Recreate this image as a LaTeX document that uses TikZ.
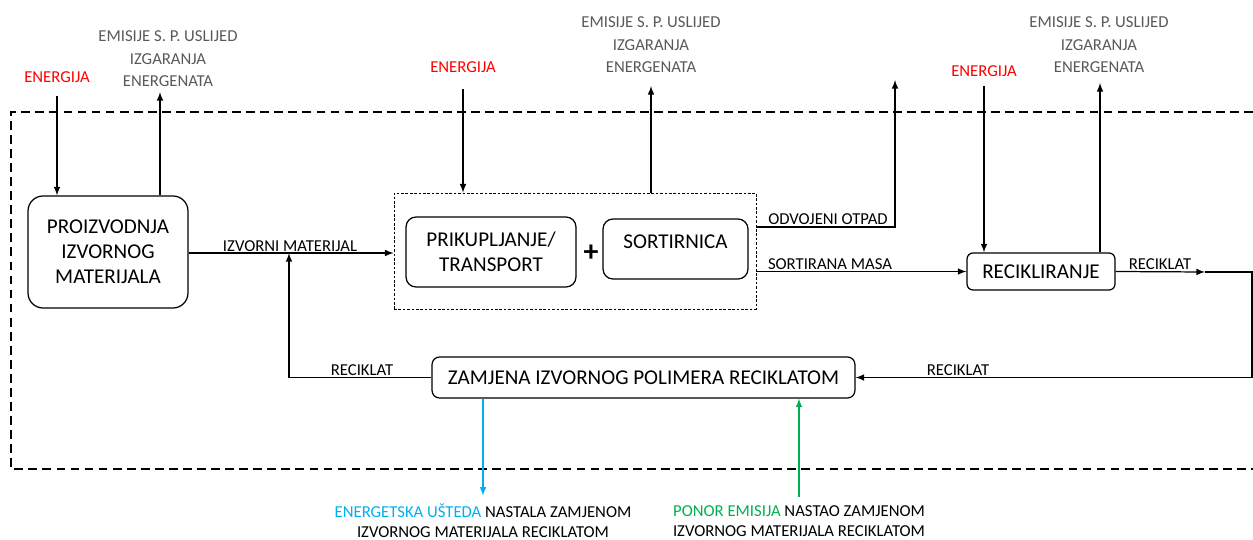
\documentclass[tikz,border=0pt]{standalone}
\usepackage{fontspec}
\setmainfont{Carlito}
\usetikzlibrary{positioning}
\definecolor{enred}{RGB}{255,0,0}
\definecolor{emgrey}{RGB}{89,89,89}
\definecolor{usteda}{RGB}{0,176,240}
\definecolor{ponor}{RGB}{0,176,80}

\begin{document}
\begin{tikzpicture}[x=0.02cm, y=-0.02cm, line width=0.7pt, >=latex,
  proc/.style={draw, rounded corners=0.2cm, align=center, inner sep=0pt, font=\fontsize{12}{14.2}\selectfont},
  proctext/.style={font=\fontsize{12}{14.2}\selectfont},
  flow/.style={font=\fontsize{9.5}{11}\selectfont, inner sep=1pt},
  energ/.style={text=enred, font=\fontsize{9.5}{11}\selectfont},
  emis/.style={text=emgrey, align=center, font=\fontsize{9.5}{12.8}\selectfont},
  bilanca/.style={align=center, font=\fontsize{9.5}{11.3}\selectfont}]
\useasboundingbox (0,0) rectangle (1253,540);

% granica sustava
\draw [dash pattern=on 5pt off 3pt, line width=0.6pt] (1253,112) -- (11,112) -- (11,469) -- (1253,469);

% procesi
\node [proc, rounded corners=0.3cm, minimum width=3.2cm, minimum height=2.24cm] (proizvodnja) at (108,252) {PROIZVODNJA\\IZVORNOG\\MATERIJALA};
\node [draw, dash pattern=on 1.5pt off 1pt, line width=0.5pt, minimum width=7.24cm, minimum height=2.32cm] (sortGroup) at (575,251) {};
\node [proc, minimum width=3.4cm, minimum height=1.4cm] (prikupljanje) at (491,252) {PRIKUPLJANJE/\\TRANSPORT};
\node [proc, minimum width=2.9cm, minimum height=1.2cm, label={[proctext, yshift=0.14cm]center:SORTIRNICA}] (sortirnica) at (675.5,249) {};
\node [font=\fontsize{17}{17}\bfseries\selectfont, inner sep=0pt] (plus) at (591,253) {+};
\node [proc, rounded corners=0.12cm, minimum width=2.96cm, minimum height=0.74cm] (recikliranje) at (1041,271.5) {RECIKLIRANJE};
\node [proc, rounded corners=0.15cm, minimum width=8.46cm, minimum height=0.82cm] (zamjena) at (643.5,377.5) {ZAMJENA IZVORNOG POLIMERA RECIKLATOM};

% ulazi energije
\node [energ] (energija1) at (57,77) {ENERGIJA};
\node [energ] (energija2) at (463,67) {ENERGIJA};
\node [energ] (energija3) at (984,71) {ENERGIJA};
\draw [->] ([yshift=-0.14cm]energija1.south) -- (energija1.south |- proizvodnja.north);
\draw [->] ([yshift=-0.2cm]energija2.south) -- (energija2.south |- sortGroup.north);
\draw [->] ([yshift=-0.06cm]energija3.south) -- (energija3.south |- recikliranje.north);

% emisije
\node [emis] (emisije1) at (168,59) {EMISIJE S. P. USLIJED\\IZGARANJA\\ENERGENATA};
\node [emis] (emisije2) at (651,45) {EMISIJE S. P. USLIJED\\IZGARANJA\\ENERGENATA};
\node [emis] (emisije3) at (1099,45) {EMISIJE S. P. USLIJED\\IZGARANJA\\ENERGENATA};
\coordinate (izlaz1) at (160,92);
\coordinate (izlaz2) at (651,86);
\coordinate (izlaz3) at (1100,83);
\draw [->] (izlaz1 |- proizvodnja.north) -- (izlaz1);
\draw [->] (izlaz2 |- sortGroup.north) -- (izlaz2);
\draw [->] (izlaz3 |- recikliranje.north) -- (izlaz3);

% tokovi materijala
\coordinate (otpad) at (895,80);
\coordinate (otpadKoljeno) at (895,227);
\coordinate (reciklatA) at (1205,272);
\coordinate (reciklatB) at (1252,272);
\coordinate (povrat) at (289,253);
\draw [->] (proizvodnja.east |- povrat) -- (povrat -| sortGroup.west);
\draw [->] (otpadKoljeno -| sortGroup.east) -- (otpadKoljeno) -- (otpad);
\draw [->] (recikliranje.west -| sortGroup.east) -- (recikliranje.west);
\draw [->] (recikliranje.east) -- (reciklatA);
\draw [->] (reciklatA) -- (reciklatB) -- (reciklatB |- zamjena.east) -- (zamjena.east);
\draw [->] (zamjena.west) -| (povrat);

\node [flow] (lblIzvorni) at (290,246) {IZVORNI MATERIJAL};
\node [flow] (lblOtpad) at (828,219) {ODVOJENI OTPAD};
\node [flow] (lblSortirana) at (830,264) {SORTIRANA MASA};
\node [flow] (lblReciklat1) at (1160,264) {RECIKLAT};
\node [flow] (lblReciklat2) at (958,370) {RECIKLAT};
\node [flow] (lblReciklat3) at (362,370) {RECIKLAT};

% bilanca
\node [bilanca] (ustedaTxt) at (483,521) {\textcolor{usteda}{ENERGETSKA UŠTEDA} NASTALA ZAMJENOM\\IZVORNOG MATERIJALA RECIKLATOM};
\node [bilanca] (ponorTxt) at (799,521) {\textcolor{ponor}{PONOR EMISIJA} NASTAO ZAMJENOM\\IZVORNOG MATERIJALA RECIKLATOM};
\draw [->, usteda] (zamjena.south -| ustedaTxt.north) -- ([yshift=0.04cm]ustedaTxt.north);
\draw [->, ponor] ([yshift=0.04cm]ponorTxt.north) -- (zamjena.south -| ponorTxt.north);
\end{tikzpicture}
\end{document}
